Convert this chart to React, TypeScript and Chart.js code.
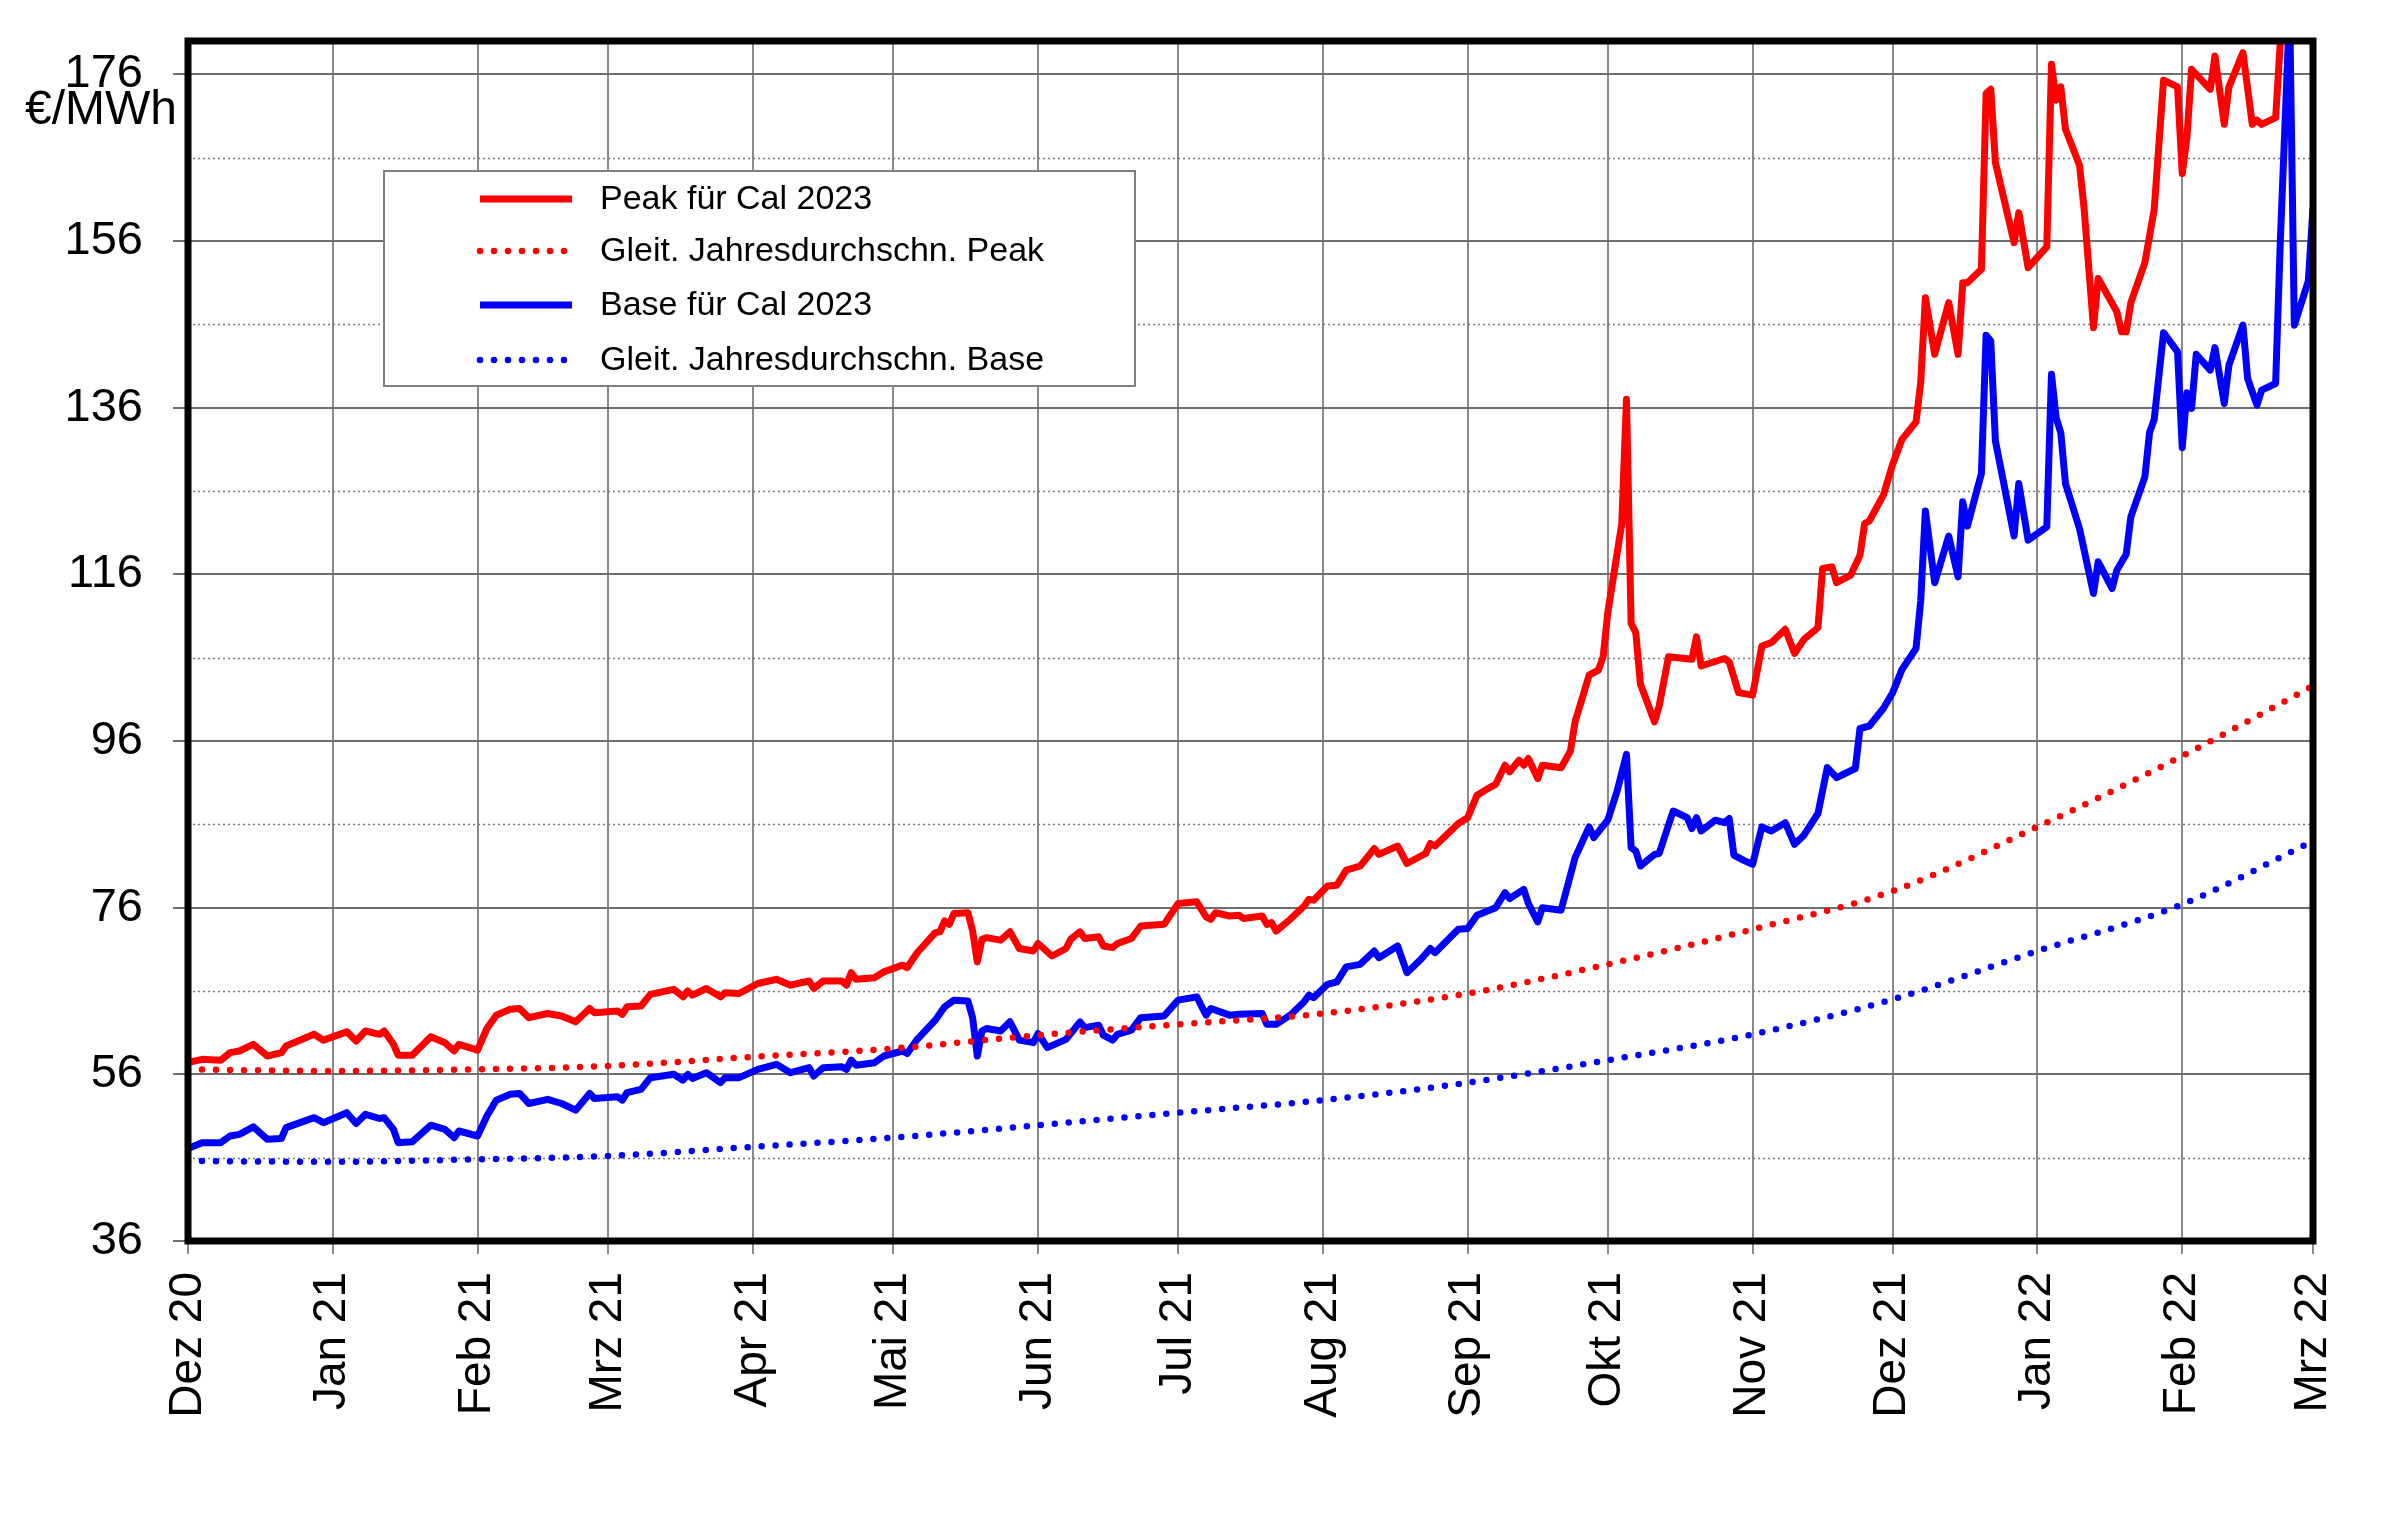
import { useEffect, useRef } from "react";
import { Chart, registerables } from "chart.js";

Chart.register(...registerables);

const FONT = '"Liberation Sans", Arial, sans-serif';

// x axis: days since 1 Dec 2020, ticks at month starts
const monthDays = [0, 31, 62, 90, 121, 151, 182, 212, 243, 274, 304, 335, 365, 396, 427, 455];
const monthLabels = [
  "Dez 20", "Jan 21", "Feb 21", "Mrz 21", "Apr 21", "Mai 21", "Jun 21", "Jul 21",
  "Aug 21", "Sep 21", "Okt 21", "Nov 21", "Dez 21", "Jan 22", "Feb 22", "Mrz 22",
];
const yTicks = [36, 56, 76, 96, 116, 136, 156, 176];
const yMinorLines = [46, 66, 86, 106, 126, 146, 166];

const peakDays = [
  0, 3, 7, 9, 11, 14, 17, 20, 21, 27, 29, 34, 36, 38, 41, 42, 44, 45, 48, 52, 55, 57, 58, 62, 64, 66, 69, 71, 73, 77,
  80, 83, 86, 87, 92, 93, 94, 97, 99, 104, 106, 107, 108, 111, 114, 115, 118, 122, 126, 129, 133, 134, 136, 140, 141,
  142, 143, 147,
  149, 153, 154, 156, 160, 161, 162, 163, 164, 167, 168, 169, 170, 171, 174, 176, 178, 181, 182, 185, 188, 189, 191,
  192, 195, 196, 198, 199, 202, 204, 209, 212, 216, 218, 219, 220, 223, 225, 226, 230, 231, 232, 233, 236, 239, 240,
  241, 244, 246, 248, 251, 253, 254, 255, 259, 261, 265, 266, 267, 272, 274, 276, 279, 280, 282, 283, 285, 286, 287,
  289, 290, 294,
  296, 297, 300, 302, 303, 304, 307, 308, 309, 310, 311, 314, 315, 317, 322, 323, 324, 329, 330, 332, 335, 337, 339,
  342, 344, 346, 349, 350, 352, 353, 356, 358, 359, 360, 363, 365, 367, 370, 371, 372, 374, 377, 379, 380, 381, 384,
  385, 386, 387, 391, 392, 394, 398, 399, 400, 401, 402, 405, 406, 408, 409, 413, 414, 415, 416, 419, 421, 423, 426,
  427, 428, 429, 433, 434, 436, 437, 440, 442, 443, 444, 447, 448, 450, 453, 455,
];
const peakValues = [
  57.4, 57.8, 57.7, 58.6, 58.8, 59.6, 58.2, 58.6, 59.4, 60.8, 60.1, 61.1, 60.0, 61.2, 60.8, 61.2, 59.6, 58.3, 58.3,
  60.5, 59.8, 58.8, 59.6, 58.9, 61.5, 63.1, 63.8, 63.9, 62.8, 63.3, 63.0, 62.3, 63.9, 63.4, 63.6, 63.2, 64.1, 64.2,
  65.6, 66.2, 65.3, 66.0, 65.5, 66.3, 65.3, 65.8, 65.7, 66.9, 67.4, 66.7, 67.2, 66.3, 67.2, 67.2, 66.7, 68.2, 67.4,
  67.6,
  68.3, 69.1, 68.8, 70.5, 73.0, 73.1, 74.4, 74.0, 75.3, 75.4, 73.2, 69.5, 72.2, 72.4, 72.1, 73.1, 71.1, 70.8, 71.7,
  70.2, 71.1, 72.2, 73.1, 72.3, 72.5, 71.4, 71.2, 71.7, 72.3, 73.8, 74.0, 76.5, 76.7, 74.9, 74.6, 75.4, 75.0, 75.1,
  74.7, 75.0, 74.0, 74.2, 73.2, 74.6, 76.2, 77.0, 76.9, 78.6, 78.7, 80.5, 81.0, 82.4, 83.1, 82.4, 83.4, 81.3, 82.5,
  83.7, 83.4, 86.1, 86.8, 89.5, 90.5, 90.8, 93.1, 92.3, 93.7, 93.1, 93.9, 91.5, 93.1, 92.8,
  94.8, 98.3, 103.9, 104.5, 106.1, 111.4, 122.1, 137.0, 110.1, 109.0, 102.8, 98.3, 100.2, 106.1, 105.8, 108.5, 105.0,
  105.9, 105.5, 101.8, 101.5, 107.4, 107.8, 109.4, 106.5, 108.2, 109.6, 116.7, 116.9, 115.0, 115.9, 118.3, 122.1,
  122.4, 125.5, 129.2, 132.2, 134.3, 139.0, 149.2, 142.4, 148.6, 142.4, 151.0, 151.0, 152.6, 173.7, 174.2, 165.4,
  155.8, 159.4, 152.8, 155.3, 177.2, 172.9, 174.5, 169.4, 165.1, 159.8, 145.6, 151.5, 147.5, 145.1, 145.1, 148.6,
  153.4, 159.8, 175.3, 174.5, 164.1, 168.4, 176.6, 174.2, 178.2, 170.0, 174.5, 178.6, 170.0, 170.5, 170.0, 170.8,
  179.9, 187, 189, 192,
];

const baseDays = [
  0, 3, 7, 9, 11, 14, 17, 20, 21, 27, 29, 34, 36, 38, 41, 42, 44, 45, 48, 52, 55, 57, 58, 62, 64, 66, 69, 71, 73, 77,
  80, 83, 86, 87, 92, 93, 94, 97, 99, 104, 106, 107, 108, 111, 114, 115, 118, 122, 126, 129, 133, 134, 136, 140, 141,
  142, 143, 147,
  149, 153, 154, 156, 160, 161, 162, 164, 167, 168, 169, 170, 171, 174, 176, 178, 181, 182, 184, 188, 191, 192, 195,
  196, 198, 199, 202, 204, 209, 212, 216, 218, 219, 223, 225, 230, 231, 233, 236, 239, 240, 241, 244, 246, 248, 251,
  254, 255, 259, 261, 264, 266, 267, 272, 274, 276, 280, 282, 283, 286, 287, 289, 290, 294,
  297, 300, 301, 304, 306, 308, 309, 310, 311, 314, 315, 318, 321, 322, 323, 324, 327, 329, 330, 331, 333, 335, 337,
  339, 342, 344, 346, 349, 351, 353, 357, 358, 360, 363, 365, 367, 370, 371, 372, 374, 377, 379, 380, 381, 384, 385,
  386, 387, 391, 392, 394, 398, 399, 400, 401, 402, 405, 408, 409, 412, 413, 415, 416, 419, 420, 421, 423, 426, 427,
  428, 429, 430, 433, 434, 436, 437, 440, 441, 443, 444, 447, 448, 450, 451, 454, 455,
];
const baseValues = [
  47.1, 47.8, 47.8, 48.6, 48.8, 49.7, 48.2, 48.3, 49.6, 50.8, 50.2, 51.4, 50.1, 51.2, 50.7, 50.8, 49.4, 47.8, 47.9,
  49.9, 49.4, 48.4, 49.2, 48.6, 51.0, 52.9, 53.6, 53.7, 52.5, 53.0, 52.5, 51.7, 53.7, 53.1, 53.3, 52.9, 53.8, 54.2,
  55.6, 56.0, 55.3, 56.0, 55.5, 56.2, 55.0, 55.6, 55.6, 56.6, 57.2, 56.2, 56.8, 55.8, 56.8, 56.9, 56.6, 57.7, 57.1,
  57.4,
  58.2, 58.8, 58.5, 60.1, 62.5, 63.3, 64.1, 64.9, 64.8, 62.8, 58.2, 61.2, 61.5, 61.2, 62.3, 60.1, 59.8, 60.9, 59.2,
  60.2, 62.3, 61.6, 61.9, 60.7, 60.1, 60.8, 61.3, 62.8, 63.0, 64.9, 65.3, 63.1, 63.9, 63.1, 63.2, 63.3, 62.0, 62.0,
  63.1, 64.7, 65.5, 65.2, 66.8, 67.1, 68.9, 69.2, 70.8, 70.0, 71.4, 68.2, 69.8, 71.1, 70.6, 73.4, 73.5, 75.1, 76.0,
  77.8, 77.1, 78.2, 76.5, 74.3, 76.0, 75.7,
  82.0, 85.7, 84.4, 86.5, 90.0, 94.4, 83.2, 82.8, 81.0, 82.4, 82.5, 87.6, 86.8, 85.5, 86.8, 85.2, 86.5, 86.2, 86.7,
  82.3, 81.7, 81.2, 85.7, 85.2, 86.2, 83.6, 84.7, 87.3, 92.8, 91.6, 92.7, 97.5, 97.8, 99.9, 101.8, 104.6, 107.1,
  112.8, 123.6, 115.0, 120.6, 115.7, 124.7, 121.8, 128.1, 144.7, 144.0, 132.0, 120.6, 126.9, 120.1, 121.7, 140.0,
  134.8, 133.0, 126.9, 121.5, 113.7, 117.5, 114.3, 116.5, 118.4, 122.9, 127.7, 133.0, 134.6, 145.0, 142.7, 131.2,
  137.8, 135.9, 142.4, 140.5, 143.2, 136.5, 141.1, 145.9, 139.5, 136.3, 138.1, 138.9, 156.0, 184.0, 145.9, 151.2,
  160.0,
];

// moving annual averages, read at each month start
const peakAverage = [56.6, 56.4, 56.6, 57.0, 58.1, 59.1, 60.7, 62.0, 63.3, 65.7, 69.2, 73.4, 78.0, 85.7, 94.2, 102.6];
const baseAverage = [45.6, 45.5, 45.8, 46.2, 47.3, 48.4, 49.9, 51.4, 52.9, 55.0, 57.7, 60.8, 65.0, 70.8, 76.4, 84.0];

const RED = "#ff0000";
const BLUE = "#0000ff";

const toPoints = (xs: number[], ys: number[]) => xs.map((x, i) => ({ x, y: ys[i] }));

const decorPlugin = {
  id: "decor",
  beforeDatasetsDraw(chart: any) {
    const { ctx, chartArea, scales } = chart;
    ctx.save();
    ctx.strokeStyle = "#7a7a7a";
    ctx.lineWidth = 1.5;
    ctx.setLineDash([2, 3]);
    yMinorLines.forEach((v) => {
      const y = Math.round(scales.y.getPixelForValue(v)) + 0.5;
      ctx.beginPath();
      ctx.moveTo(chartArea.left, y);
      ctx.lineTo(chartArea.right, y);
      ctx.stroke();
    });
    ctx.restore();
  },
  afterDatasetsDraw(chart: any) {
    const { ctx, chartArea } = chart;
    ctx.save();
    // frame
    ctx.strokeStyle = "#000";
    ctx.lineWidth = 7;
    ctx.strokeRect(chartArea.left, chartArea.top, chartArea.right - chartArea.left, chartArea.bottom - chartArea.top);

    // unit label
    ctx.fillStyle = "#000";
    ctx.font = `48px ${FONT}`;
    ctx.textAlign = "right";
    ctx.textBaseline = "middle";
    ctx.fillText("€/MWh", chartArea.left - 11, chartArea.top + 70);

    // legend
    const lx = chartArea.left + 196;
    const ly = chartArea.top + 130;
    ctx.fillStyle = "#fff";
    ctx.fillRect(lx, ly, 751, 215);
    ctx.strokeStyle = "#808080";
    ctx.lineWidth = 2;
    ctx.strokeRect(lx, ly, 751, 215);
    const rows = [28, 80, 134, 189];
    chart.data.datasets.forEach((ds: any, i: number) => {
      const y = ly + rows[i];
      ctx.strokeStyle = ds.borderColor;
      ctx.lineWidth = ds.borderWidth;
      ctx.lineCap = ds.borderCapStyle || "butt";
      ctx.setLineDash(ds.borderDash || []);
      ctx.beginPath();
      ctx.moveTo(lx + 96, y);
      ctx.lineTo(lx + 188, y);
      ctx.stroke();
      ctx.setLineDash([]);
      ctx.fillStyle = "#000";
      ctx.font = `34px ${FONT}`;
      ctx.textAlign = "left";
      ctx.textBaseline = "middle";
      ctx.fillText(ds.label, lx + 216, y + 1);
    });
    ctx.restore();
  },
};

export default function App() {
  const canvasRef = useRef<HTMLCanvasElement | null>(null);

  useEffect(() => {
    const ctx = canvasRef.current!.getContext("2d")!;
    const chart = new Chart(ctx, {
      type: "line",
      data: {
        datasets: [
          {
            label: "Peak für Cal 2023",
            data: toPoints(peakDays, peakValues),
            borderColor: RED,
            borderWidth: 7,
            pointRadius: 0,
            tension: 0,
            borderJoinStyle: "round",
          },
          {
            label: "Gleit. Jahresdurchschn. Peak",
            data: toPoints(monthDays, peakAverage),
            borderColor: RED,
            borderWidth: 6.5,
            borderDash: [0, 14],
            borderCapStyle: "round",
            pointRadius: 0,
            cubicInterpolationMode: "monotone",
          },
          {
            label: "Base für Cal 2023",
            data: toPoints(baseDays, baseValues),
            borderColor: BLUE,
            borderWidth: 7,
            pointRadius: 0,
            tension: 0,
            borderJoinStyle: "round",
          },
          {
            label: "Gleit. Jahresdurchschn. Base",
            data: toPoints(monthDays, baseAverage),
            borderColor: BLUE,
            borderWidth: 6.5,
            borderDash: [0, 14],
            borderCapStyle: "round",
            pointRadius: 0,
            cubicInterpolationMode: "monotone",
          },
        ],
      },
      options: {
        responsive: false,
        devicePixelRatio: 1,
        animation: false,
        events: [],
        layout: { padding: { top: 41, right: 87, left: 0, bottom: 0 } },
        plugins: { legend: { display: false }, tooltip: { enabled: false } },
        scales: {
          x: {
            type: "linear",
            min: 0,
            max: 455,
            afterBuildTicks: (s: any) => {
              s.ticks = monthDays.map((v) => ({ value: v }));
            },
            afterFit: (s: any) => {
              s.height = 295;
              s.paddingLeft = 0;
              s.paddingRight = 0;
            },
            grid: { color: "#8a8a8a", lineWidth: 2, tickLength: 13 },
            border: { display: false },
            ticks: {
              autoSkip: false,
              minRotation: 90,
              maxRotation: 90,
              padding: 18,
              color: "#000",
              font: { family: FONT, size: 46 },
              callback: (v: any) => monthLabels[monthDays.indexOf(Number(v))] ?? "",
            },
          },
          y: {
            min: 36,
            max: 180,
            afterBuildTicks: (s: any) => {
              s.ticks = yTicks.map((v) => ({ value: v }));
            },
            afterFit: (s: any) => {
              s.width = 188;
              s.paddingTop = 0;
              s.paddingBottom = 0;
            },
            grid: { color: "#6e6e6e", lineWidth: 2, tickLength: 15 },
            border: { display: false },
            ticks: {
              padding: 30,
              color: "#000",
              font: { family: FONT, size: 47 },
              callback: (v: any) => String(v),
            },
          },
        },
      },
      plugins: [decorPlugin],
    });

    return () => {
      chart.destroy();
    };
  }, []);

  return (
    <div style={{ position: "fixed", left: 0, top: 0, width: 2400, height: 1536, background: "#fff" }}>
      <canvas ref={canvasRef} width={2400} height={1536} />
    </div>
  );
}
